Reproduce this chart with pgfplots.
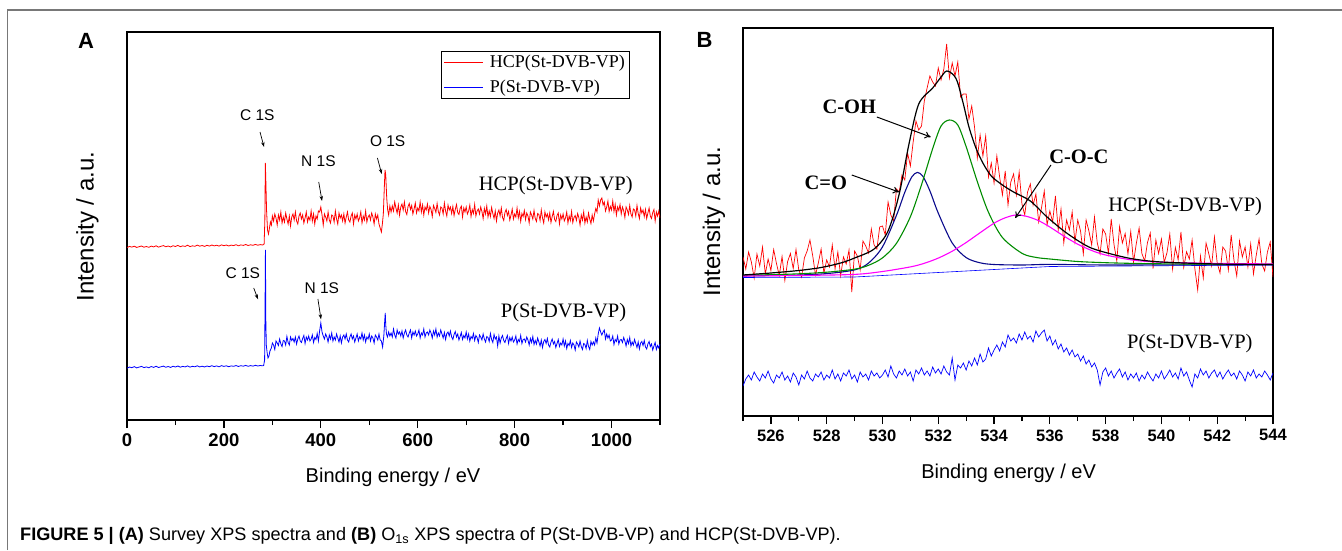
\documentclass[border=0pt]{standalone}
\usepackage{pgfplots}
\pgfplotsset{compat=1.18}
\usepackage{fontspec}
\setmainfont{Liberation Sans}
\newfontfamily\timesf{Liberation Serif}
\usetikzlibrary{arrows.meta}
\definecolor{navyc}{RGB}{10,10,140}
\definecolor{greenc}{RGB}{0,140,0}
\definecolor{magc}{RGB}{255,0,255}
\definecolor{framegray}{RGB}{120,120,120}
\pgfplotsset{
  myaxis/.style={
    scale only axis, anchor=south west,
    axis line style={line width=1.4pt},
    ytick=\empty, xtick pos=bottom, tick align=outside,
    major tick length=8pt, minor tick length=5pt,
    tick style={black, line width=1.2pt},
    /pgf/number format/assume math mode=true,
    /pgf/number format/set thousands separator={},
    ymin=0, ymax=388,
  }
}
\begin{document}
\begin{tikzpicture}[x=1pt,y=1pt]
\useasboundingbox (0,0) rectangle (1342,550);
\draw[framegray, line width=1.3pt] (7.5,0) -- (7.5,540) -- (1342,540);
% ---------------- Panel A ----------------
\begin{axis}[myaxis, at={(127pt,130pt)}, width=533pt, height=388pt,
  xmin=0, xmax=1100, xtick={0,200,...,1000}, minor xtick={100,300,...,1100},
  xticklabel style={font=\fontsize{18.5}{20}\selectfont\bfseries, yshift=-2pt},
  legend style={at={(0.944,0.951)}, anchor=north east, draw=black, line width=0.7pt,
    font=\timesf\fontsize{18}{19}\selectfont, inner xsep=3pt, inner ysep=2pt, row sep=7pt},
  legend cell align=left,
  legend image code/.code={\draw[#1, line width=0.9pt] (0pt,0pt) -- (39pt,0pt);},
]
\addplot[red, line width=0.8pt] coordinates {
(0,172.4)(5,173.6)(10,172.9)(15,173.8)(20,172.6)(25,173.3)(30,174.0)(35,172.8)(40,173.5)(45,172.7)
(50,173.9)(55,173.1)(60,174.2)(65,172.9)(70,173.7)(75,174.4)(80,173.2)(85,174.0)(90,173.0)(95,174.3)
(100,173.5)(105,174.6)(110,173.3)(115,174.1)(120,173.6)(125,174.8)(130,173.4)(135,174.2)(140,173.7)(145,174.9)
(150,173.8)(155,174.5)(160,173.6)(165,174.7)(170,173.9)(175,175.0)(180,174.1)(185,174.8)(190,173.9)(195,175.1)
(200,174.3)(205,175.0)(210,174.0)(215,174.9)(220,174.4)(225,175.3)(230,174.2)(235,175.1)(240,174.6)(245,175.5)
(250,174.5)(255,175.2)(260,174.7)(265,175.6)(270,174.8)(275,175.4)(280,175.0)
(283,176)(284.5,200)(285.5,257)(286.5,240)(288,210)(290,190)(292,186)(294,192)(296,198)(298,195)
(300,204)(302.5,199)(305,206)(307.5,202)(310,195)(312.5,205)(315,200)(317.5,208)(320,197)(322.5,203)
(325,198)(327.5,207)(330,201)(332.5,196)(335,204)(337.5,194)(340,203)(342.5,206)(345,200)(347.5,208)
(350,199)(352.5,196)(355,204)(357.5,207)(360,201)(362.5,205)(365,197)(367.5,202)(370,208)(372.5,198)
(375,203)(377.5,200)(380,209)(382.5,199)(385,206)(387.5,196)(390,204)(392.5,201)(395,209)(397.5,208)
(400,213)(402.5,205)(405,195)(407.5,206)(410,203)(412.5,199)(415,208)(417.5,200)(420,197)(422.5,205)
(425,204)(427.5,198)(430,209)(432.5,201)(435,196)(437.5,207)(440,202)(442.5,205)(445,199)(447.5,206)
(450,197)(452.5,203)(455,208)(457.5,200)(460,198)(462.5,204)(465,207)(467.5,196)(470,205)(472.5,201)
(475,206)(477.5,199)(480,202)(482.5,208)(485,197)(487.5,204)(490,200)(492.5,209)(495,198)(497.5,203)
(500,205)(502.5,200)(505,207)(507.5,203)(510,196)(512.5,206)(515,201)(517.5,205)(520,196)(522.5,192)
(525,188)(527,196)(529,206)(531,232)(532.5,250)(534,245)(536,222)(538,210)(540,205)(542.5,214)
(545,208)(547.5,214)(550,209)(552.5,218)(555,212)(557.5,207)(560,215)(562.5,205)(565,213)(567.5,216)
(570,210)(572.5,218)(575,208.5)(577.5,205.5)(580,213.5)(582.5,216.5)(585,210.5)(587.5,214.5)(590,206)(592.5,211)
(595,217)(597.5,207)(600,212)(602.5,209)(605,218)(607.5,208)(610,215)(612.5,205)(615,213)(617.5,210)
(620,216)(622.5,207)(625,213.5)(627.5,210.5)(630,203.5)(632.5,214.5)(635,211.5)(637.5,207.5)(640,216.5)(642.5,208.5)
(645,205)(647.5,213)(650,212)(652.5,206)(655,217)(657.5,209)(660,204)(662.5,215)(665,210)(667.5,213)
(670,206.5)(672.5,213.5)(675,204.5)(677.5,210.5)(680,215.5)(682.5,207.5)(685,205.5)(687.5,211.5)(690,214)(692.5,203)
(695,212)(697.5,208)(700,213)(702.5,206)(705,209)(707.5,215)(710,203.5)(712.5,210.5)(715,206.5)(717.5,215.5)
(720,204)(722.5,209)(725,211)(727.5,206)(730,213)(732.5,208.5)(735,201.5)(737.5,211.5)(740,206)(742.5,214)
(745,203)(747.5,209)(750,203.5)(752.5,212.5)(755,206.5)(757.5,201.5)(760,209)(762.5,199)(765,207)(767.5,210)
(770,204)(772.5,212)(775,202.5)(777.5,199.5)(780,207.5)(782.5,210.5)(785,204.5)(787.5,208.5)(790,200)(792.5,205)
(795,211)(797.5,201)(800,206)(802.5,203)(805,212)(807.5,202)(810,208.5)(812.5,198.5)(815,206.5)(817.5,203.5)
(820,209.5)(822.5,200.5)(825,207)(827.5,204)(830,197)(832.5,208)(835,205)(837.5,201)(840,209.5)(842.5,201.5)
(845,198.5)(847.5,206.5)(850,205.5)(852.5,199.5)(855,210)(857.5,202)(860,197)(862.5,208)(865,203)(867.5,206)
(870,200)(872.5,207)(875,197.5)(877.5,203.5)(880,208.5)(882.5,200.5)(885,198.5)(887.5,204.5)(890,207)(892.5,196)
(895,205)(897.5,201)(900,206)(902.5,199)(905,202)(907.5,208)(910,197)(912.5,204)(915,199.5)(917.5,208.5)
(920,197.5)(922.5,202.5)(925,204.5)(927.5,199.5)(930,206.5)(932.5,202.5)(935,195)(937.5,205)(940,200)(942.5,208)
(945,197)(947.5,203)(950,198)(952.5,207)(955,201)(957.5,196.5)(960,205)(962.5,199)(965,206)(967.5,211.5)
(970,208)(972.5,220)(975,214)(977.5,220)(980,222)(982.5,215)(985,218)(987.5,209)(990,213)(992.5,219)
(995,208.5)(997.5,213.5)(1000,210)(1002.5,219)(1005,208.5)(1007.5,215.5)(1010,205)(1012.5,213)(1015,209.5)(1017.5,215.5)
(1020,206)(1022.5,213)(1025,209.5)(1027.5,202.5)(1030,213)(1032.5,210)(1035,205.5)(1037.5,214.5)(1040,206)(1042.5,203)
(1045,211)(1047.5,210)(1050,204)(1052.5,214.5)(1055,206.5)(1057.5,201.5)(1060,212)(1062.5,207)(1065,210)(1067.5,203.5)
(1070,210.5)(1072.5,201.5)(1075,207)(1077.5,212)(1080,204)(1082.5,201.5)(1085,207.5)(1087.5,210.5)(1090,199)(1092.5,208)
(1095,204)(1097.5,209)(1100,202)
};
\addlegendentry{\hspace{4pt}HCP(St-DVB-VP)}
\addplot[blue, line width=0.8pt] coordinates {
(0,51.8)(5,53.0)(10,52.3)(15,53.4)(20,52.1)(25,52.9)(30,53.6)(35,52.4)(40,53.1)(45,52.2)
(50,53.5)(55,52.6)(60,53.8)(65,52.5)(70,53.2)(75,53.9)(80,52.7)(85,53.5)(90,52.6)(95,53.8)
(100,53.0)(105,54.0)(110,52.8)(115,53.6)(120,53.1)(125,54.1)(130,52.9)(135,53.7)(140,53.2)(145,54.2)
(150,53.1)(155,53.8)(160,53.0)(165,54.0)(170,53.3)(175,54.3)(180,53.4)(185,54.1)(190,53.2)(195,54.4)
(200,53.6)(205,54.2)(210,53.3)(215,54.1)(220,53.7)(225,54.5)(230,53.5)(235,54.3)(240,53.8)(245,54.6)
(250,53.7)(255,54.4)(260,53.9)(265,54.7)(270,54.0)(275,54.5)(280,54.2)
(282,54.5)(284,60)(285,120)(285.7,170)(286.5,100)(287.5,75)(289,68)(291,62)(293,64)(295,69)(298,72)
(300,77)(302.5,75)(305,70.5)(307.5,79)(310,77)(312.5,74.5)(315,81)(317.5,76)(320,73.5)(322.5,79.5)
(325,79)(327.5,75)(330,83.5)(332.5,77.5)(335,75)(337.5,83)(340,79.5)(342.5,81.5)(345,78)(347.5,83)
(350,76)(352.5,81)(355,84)(357.5,79)(360,77.5)(362.5,81.5)(365,84.5)(367.5,76.5)(370,83)(372.5,80)
(375,84)(377.5,79)(380,81)(382.5,85)(385,77.5)(387.5,82.5)(390,80.5)(392.5,86.5)(395,79)(397.5,89)
(400,97)(402.5,88)(405,84)(407.5,81)(410,86)(412.5,83)(415,78)(417.5,85)(420,81)(422.5,87)
(425,79)(427.5,83)(430,80)(432.5,86)(435,82)(437.5,78)(440,84)(442.5,77)(445,83)(447.5,85)
(450,81)(452.5,86)(455,80)(457.5,78)(460,83)(462.5,86)(465,81)(467.5,84)(470,78)(472.5,82)
(475,86)(477.5,79)(480,83)(482.5,81)(485,87)(487.5,80)(490,85)(492.5,78)(495,83)(497.5,81)
(500,86)(502.5,79)(505,84)(507.5,82)(510,77)(512.5,85)(515,83)(517.5,80)(520,86)(522.5,80)
(525,79)(527.5,73)(530,84)(532,100)(533,107)(534,95)(535.5,86)(537.5,83)(540,88)(542.5,84)
(545,87)(547.5,83)(550,91)(552.5,85)(555,82)(557.5,90)(560,86)(562.5,88)(565,84)(567.5,89)
(570,82)(572.5,87)(575,90)(577.5,85)(580,83)(582.5,87)(585,90)(587.5,82)(590,88)(592.5,85)
(595,89)(597.5,84)(600,86)(602.5,90)(605,82)(607.5,87)(610,85)(612.5,91)(615,83)(617.5,87)
(620,88)(622.5,85)(625,90)(627.5,87)(630,82)(632.5,89)(635,85)(637.5,91)(640,83)(642.5,87)
(645,84)(647.5,90)(650,86)(652.5,82)(655,87.5)(657.5,80.5)(660,86.5)(662.5,88)(665,84)(667.5,89)
(670,83)(672.5,80.5)(675,85.5)(677.5,88.5)(680,83)(682.5,86)(685,80)(687.5,83.5)(690,87.5)(692.5,80.5)
(695,84.5)(697.5,82)(700,88)(702.5,81)(705,86)(707.5,79)(710,83.5)(712.5,81.5)(715,86.5)(717.5,79.5)
(720,84.5)(722.5,82.5)(725,77.5)(727.5,85)(730,83)(732.5,80)(735,86)(737.5,81)(740,78)(742.5,83.5)
(745,82.5)(747.5,78.5)(750,86.5)(752.5,80.5)(755,77.5)(757.5,85.5)(760,81)(762.5,83)(765,74)(767.5,84)
(770,77)(772.5,82)(775,84.5)(777.5,79.5)(780,77.5)(782.5,81.5)(785,84.5)(787.5,76.5)(790,82.5)(792.5,79)
(795,83)(797.5,78)(800,80)(802.5,84)(805,76)(807.5,80.5)(810,78.5)(812.5,84.5)(815,76.5)(817.5,80.5)
(820,81)(822.5,78)(825,83)(827.5,80)(830,75)(832.5,81.5)(835,77.5)(837.5,83.5)(840,75.5)(842.5,79.5)
(845,76)(847.5,82)(850,78)(852.5,74)(855,80)(857.5,72.5)(860,78.5)(862.5,80.5)(865,76.5)(867.5,81.5)
(870,75)(872.5,73)(875,78)(877.5,81)(880,76)(882.5,78.5)(885,72.5)(887.5,76.5)(890,80.5)(892.5,73.5)
(895,77)(897.5,75)(900,81)(902.5,74)(905,79)(907.5,71.5)(910,76.5)(912.5,74.5)(915,79.5)(917.5,72.5)
(920,77)(922.5,75)(925,70)(927.5,78)(930,76)(932.5,73)(935,79)(937.5,73.5)(940,70.5)(942.5,76.5)
(945,75.5)(947.5,71.5)(950,79.5)(952.5,73.5)(955,70.5)(957.5,78.5)(960,75)(962.5,78)(965,75)(967.5,82)
(970,77)(972.5,86)(975,92)(977.5,88)(980,85)(982.5,88)(985,90)(987.5,81)(990,86)(992.5,82)
(995,85)(997.5,79)(1000,80)(1002.5,84)(1005,75.5)(1007.5,80.5)(1010,78.5)(1012.5,84)(1015,76)(1017.5,80)
(1020,80.5)(1022.5,77.5)(1025,82.5)(1027.5,79)(1030,74)(1032.5,80.5)(1035,76.5)(1037.5,82.5)(1040,74)(1042.5,78)
(1045,75)(1047.5,80.5)(1050,76.5)(1052.5,72.5)(1055,78)(1057.5,71)(1060,77)(1062.5,78.5)(1065,74.5)(1067.5,79.5)
(1070,73)(1072.5,71)(1075,76)(1077.5,78.5)(1080,73.5)(1082.5,76)(1085,70)(1087.5,74)(1090,77.5)(1092.5,70.5)
(1095,74.5)(1097.5,72)(1100,76)
};
\addlegendentry{\hspace{4pt}P(St-DVB-VP)}
% annotations
\begin{scope}[every node/.style={font=\fontsize{15.5}{17}\selectfont, inner sep=0pt}]
\node at (axis cs:269,305) {C 1S};
\node at (axis cs:395,259) {N 1S};
\node at (axis cs:538,279) {O 1S};
\node at (axis cs:239,147) {C 1S};
\node at (axis cs:402,132) {N 1S};
\end{scope}
\begin{scope}[-{Stealth[length=5pt,width=3.5pt]}, line width=0.7pt]
\draw (axis cs:274.5,288) -- (axis cs:282.8,273);
\draw (axis cs:395.7,238) -- (axis cs:402.5,219);
\draw (axis cs:516.8,262) -- (axis cs:525.7,246);
\draw (axis cs:261.5,132) -- (axis cs:270.4,120.7);
\draw (axis cs:394,121) -- (axis cs:400.4,100.7);
\end{scope}
\node[font=\timesf\fontsize{20.5}{22}\selectfont] at (axis cs:885,234) {HCP(St-DVB-VP)};
\node[font=\timesf\fontsize{20.5}{22}\selectfont] at (axis cs:901,107) {P(St-DVB-VP)};
\end{axis}
% ---------------- Panel B ----------------
\begin{axis}[myaxis, at={(743pt,134pt)}, width=530pt, height=388pt,
  xmin=525, xmax=544, xtick={526,528,...,544}, minor xtick={525,527,...,543},
  xticklabel style={font=\fontsize{16.5}{18}\selectfont\bfseries, yshift=-2pt},
]
\addplot[red, line width=0.7pt] coordinates {
(525.0,159)(525.1,147)(525.2,164)(525.3,154)(525.4,138)(525.5,162)(525.6,150)(525.7,169)(525.8,142)(525.9,157)
(526.0,145.5)(526.1,166.5)(526.2,152.5)(526.3,140.5)(526.4,159.5)(526.5,135.5)(526.6,154.5)(526.7,162.5)(526.8,147.5)(526.9,166.5)
(527.0,146)(527.1,139)(527.2,158)(527.3,165)(527.4,176)(527.5,160)(527.6,141)(527.7,153)(527.8,167)(527.9,143)
(528.0,156)(528.1,149)(528.2,171)(528.3,147)(528.4,164)(528.5,140)(528.6,159)(528.7,152)(528.8,166)(528.9,124)
(529.0,165)(529.1,160)(529.2,146)(529.3,175)(529.4,170)(529.5,163)(529.6,187)(529.7,171)(529.8,167)(529.9,189)
(530.0,190)(530.1,181)(530.2,214)(530.3,201)(530.4,195)(530.5,227)(530.6,224)(530.7,241)(530.8,236)(530.9,263)
(531.0,250)(531.1,274)(531.2,295)(531.3,286)(531.4,290)(531.5,315)(531.6,328)(531.7,340)(531.8,334)(531.9,330)
(532.0,348)(532.1,336)(532.2,347)(532.3,372)(532.4,338)(532.5,353)(532.6,340)(532.7,354)(532.8,319)(532.9,322)
(533.0,322)(533.1,297)(533.2,310)(533.3,289)(533.4,258)(533.5,281)(533.6,260)(533.7,280)(533.8,239)(533.9,253)
(534.0,233)(534.1,260)(534.2,239)(534.3,221)(534.4,245)(534.5,211)(534.6,234)(534.7,242)(534.8,221)(534.9,244)
(535.0,212)(535.1,201)(535.2,224)(535.3,232)(535.4,211)(535.5,222)(535.6,194)(535.7,208)(535.8,225)(535.9,191)
(536.0,205)(536.1,194)(536.2,220)(536.3,186)(536.4,207)(536.5,173)(536.6,196)(536.7,186)(536.8,204)(536.9,174)
(537.0,196)(537.1,185)(537.2,162)(537.3,196)(537.4,185)(537.5,171)(537.6,199)(537.7,173)(537.8,162)(537.9,187)
(538.0,182)(538.1,162.5)(538.2,197)(538.3,171.5)(538.4,155)(538.5,189.5)(538.6,173)(538.7,182.5)(538.8,162)(538.9,184.5)
(539.0,154)(539.1,172.5)(539.2,188)(539.3,162.5)(539.4,155)(539.5,173.5)(539.6,183)(539.7,147.5)(539.8,176)(539.9,162.5)
(540.0,177)(540.1,153.7)(540.2,163.4)(540.3,182)(540.4,146.8)(540.5,168.5)(540.6,156.2)(540.7,184)(540.8,148.6)(540.9,164.3)
(541.0,157)(541.1,176)(541.2,147)(541.3,126)(541.4,160)(541.5,138)(541.6,173)(541.7,162)(541.8,150)(541.9,179)
(542.0,153)(542.1,143)(542.2,169)(542.3,165)(542.4,146)(542.5,181)(542.6,156)(542.7,140)(542.8,175)(542.9,159)
(543.0,169)(543.1,149)(543.2,172)(543.3,142)(543.4,161)(543.5,177)(543.6,152)(543.7,145)(543.8,164)(543.9,174)
(544.0,139)
};
% baseline
\addplot[blue, line width=0.6pt] coordinates {(525,138.5)(529,139)(532,143.5)(536,149.5)(544,151)};
% C=O component
\addplot[navyc, line width=1.1pt, smooth] coordinates {
(525,140)(526,140.4)(527,141)(528,142.4)(529,146.1)(529.5,152.9)(530,169.1)(530.5,200.6)(530.8,223.7)
(531.05,239)(531.25,243.6)(531.45,239.6)(531.7,225.1)(532,202.9)(532.5,173)(533,158.4)(533.5,153.2)
(534,151.5)(535,151)(536,151.6)(538,151)(540,151.1)(544,151.3)};
% C-OH component
\addplot[greenc, line width=1.1pt, smooth] coordinates {
(525,140.8)(526,141.3)(527,142.2)(528,143.8)(529,146.8)(529.5,150.7)(530,158.1)(530.5,172.6)(531,199.3)
(531.4,231.3)(531.8,267.4)(532.1,290)(532.4,296)(532.7,291)(533,269.3)(533.4,234.4)(533.8,203.7)
(534.3,178.5)(535,162.7)(535.5,158.6)(536,157)(537,154.5)(538,153.3)(539,152.6)(540,152.2)(542,151.8)(544,151.7)};
% C-O-C component
\addplot[magc, line width=1.1pt, smooth] coordinates {
(525,140.0)(527,140.5)(529,141.6)(530,144.5)(531,149.1)(531.5,152.7)(532,157.9)(532.5,164.8)(533,173.5)
(533.5,183.3)(534,192.8)(534.4,198.2)(534.8,201.1)(535.2,199.4)(535.6,195.3)(536,189)(536.5,180)
(537,171.8)(537.5,165.5)(538,161)(539,155.8)(540,153.8)(542,152.6)(544,152.1)};
% envelope
\addplot[black, line width=1.2pt, smooth] coordinates {
(525.0,141)(526.0,143)(527.0,145.5)(527.8,148.5)(528.5,153)(529.0,158)(529.7,167)(530.2,185)(530.6,222)
(530.95,272)(531.3,312)(531.8,328)(532.1,339)(532.3,345)(532.55,341)(532.7,333)(532.9,312)(533.1,289)
(533.35,268)(533.6,253)(533.9,240)(534.3,231)(534.7,224)(535.3,215)(535.9,199)(536.6,183)(537.4,169)
(538.2,162)(539.0,157)(540.0,154)(542.0,152)(544.0,151.5)};
% P(St-DVB-VP)
\addplot[blue, line width=0.7pt] coordinates {
(525.0,30)(525.1,37)(525.2,41)(525.3,36)(525.4,44)(525.5,39)(525.6,35)(525.7,42)(525.8,38)(525.9,45)
(526.0,37)(526.1,33)(526.2,41)(526.3,38)(526.4,44)(526.5,36)(526.6,40)(526.7,34)(526.8,43)(526.9,39)
(527.0,31)(527.1,41)(527.2,37)(527.3,45)(527.4,38)(527.5,35)(527.6,42)(527.7,39)(527.8,44)(527.9,36)
(528.0,41)(528.1,38)(528.2,46)(528.3,37)(528.4,42)(528.5,35)(528.6,43)(528.7,40)(528.8,46)(528.9,37)
(529.0,41)(529.1,34)(529.2,44)(529.3,39)(529.4,42)(529.5,36)(529.6,45)(529.7,40)(529.8,43)(529.9,38)
(530.0,41)(530.1,46)(530.2,39)(530.3,50)(530.4,42)(530.5,38)(530.6,45)(530.7,41)(530.8,47)(530.9,40)
(531.0,44)(531.1,35)(531.2,46)(531.3,42)(531.4,48)(531.5,41)(531.6,45)(531.7,40)(531.8,49)(531.9,43)
(532.0,47)(532.1,42)(532.2,50)(532.3,44)(532.4,41)(532.5,58)(532.6,36)(532.7,51)(532.8,48)(532.9,53)
(533.0,46)(533.1,55)(533.2,50)(533.3,58)(533.4,51)(533.5,62)(533.6,54)(533.7,57)(533.8,68)(533.9,60)
(534.0,66)(534.1,71)(534.2,65)(534.3,74)(534.4,69)(534.5,81)(534.6,75)(534.7,78)(534.8,73)(534.9,82)
(535.0,76)(535.1,84)(535.2,77)(535.3,80)(535.4,74)(535.5,85)(535.6,79)(535.7,83)(535.8,86)(535.9,75)
(536.0,80)(536.1,71)(536.2,76)(536.3,67)(536.4,72)(536.5,64)(536.6,68)(536.7,61)(536.8,66)(536.9,59)
(537.0,62)(537.1,55)(537.2,60)(537.3,52)(537.4,56)(537.5,49)(537.6,53)(537.7,46)(537.8,31)(537.9,44)
(538.0,48)(538.1,40)(538.2,45)(538.3,38)(538.4,43)(538.5,47)(538.6,39)(538.7,44)(538.8,36)(538.9,42)
(539.0,38)(539.1,43)(539.2,35)(539.3,41)(539.4,37)(539.5,44)(539.6,39)(539.7,35)(539.8,42)(539.9,38)
(540.0,45)(540.1,37)(540.2,41)(540.3,46)(540.4,39)(540.5,43)(540.6,37)(540.7,48)(540.8,40)(540.9,44)
(541.0,36)(541.1,29)(541.2,42)(541.3,38)(541.4,47)(541.5,41)(541.6,45)(541.7,38)(541.8,43)(541.9,46)
(542.0,39)(542.1,44)(542.2,37)(542.3,42)(542.4,46)(542.5,40)(542.6,43)(542.7,37)(542.8,45)(542.9,41)
(543.0,35)(543.1,44)(543.2,40)(543.3,46)(543.4,38)(543.5,42)(543.6,39)(543.7,45)(543.8,41)(543.9,36)
(544.0,43)
};
\begin{scope}[every node/.style={font=\timesf\bfseries\fontsize{20.5}{22}\selectfont, inner sep=0pt}]
\node at (axis cs:528.81,309) {C-OH};
\node at (axis cs:527.97,233) {C=O};
\node at (axis cs:537.04,259) {C-O-C};
\end{scope}
\begin{scope}[-{To[length=6pt,width=7pt]}, line width=1pt]
\draw (axis cs:529.80,299) -- (axis cs:531.73,279);
\draw (axis cs:528.90,241) -- (axis cs:530.59,224);
\draw (axis cs:536.04,251) -- (axis cs:534.76,198);
\end{scope}
\node[font=\timesf\fontsize{20.5}{22}\selectfont] at (axis cs:540.85,209) {HCP(St-DVB-VP)};
\node[font=\timesf\fontsize{20.5}{22}\selectfont] at (axis cs:541.02,72) {P(St-DVB-VP)};
\end{axis}
% outer labels
\node[font=\bfseries\fontsize{22}{24}\selectfont] at (86,509) {A};
\node[font=\bfseries\fontsize{22}{24}\selectfont] at (704.5,510) {B};
\node[font=\fontsize{20}{22}\selectfont, anchor=base] at (393,67.7) {Binding energy / eV};
\node[font=\fontsize{20}{22}\selectfont, anchor=base] at (1008.6,71.7) {Binding energy / eV};
\node[font=\fontsize{24}{26}\selectfont, anchor=base, rotate=90] at (93.5,323.5) {Intensity / a.u.};
\node[font=\fontsize{24}{26}\selectfont, anchor=base, rotate=90] at (720,328.5) {Intensity / a.u.};
\node[anchor=base west, inner sep=0pt, font=\fontsize{18.1}{19}\selectfont] at (20,9.3)
  {\textbf{FIGURE 5 | (A)} Survey XPS spectra and \textbf{(B)} O\textsubscript{1s} XPS spectra of P(St-DVB-VP) and HCP(St-DVB-VP).};
\end{tikzpicture}
\end{document}
